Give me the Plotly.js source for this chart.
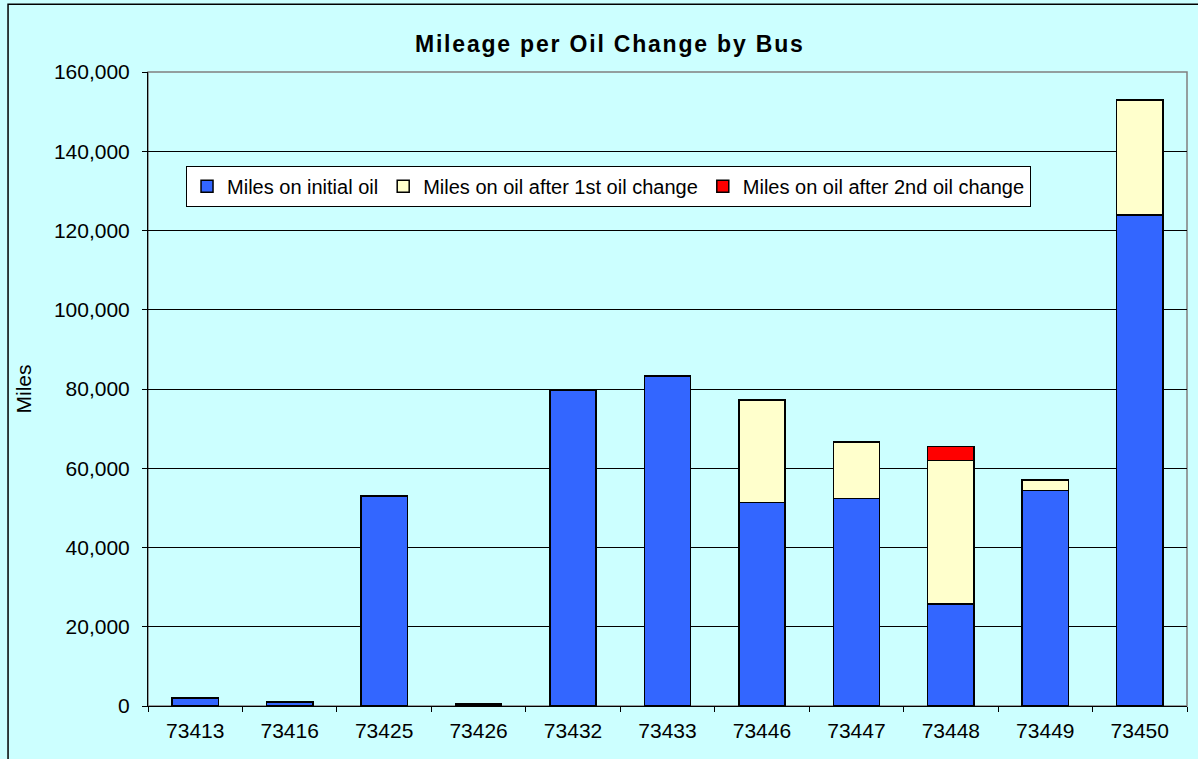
<!DOCTYPE html>
<html>
<head>
<meta charset="utf-8">
<script src="https://cdn.plot.ly/plotly-3.0.1.min.js"></script>
<style>
  html, body { margin: 0; padding: 0; background: #CCFFFF; }
  #chart { width: 1198px; height: 759px; }
  #chart .gtitle { letter-spacing: 1.8px; }
</style>
</head>
<body>
<div id="chart"></div>
<script>
const buses = ["73413", "73416", "73425", "73426", "73432", "73433", "73446", "73447", "73448", "73449", "73450"];
const initialOil = [2000, 1000, 53000, 500, 79800, 83300, 51400, 52400, 25700, 54400, 123900];
const afterFirst = [0, 0, 0, 0, 0, 0, 25800, 14200, 36300, 2600, 29000];
const afterSecond = [0, 0, 0, 0, 0, 0, 0, 0, 3500, 0, 0];
const seriesNames = ["Miles on initial oil", "Miles on oil after 1st oil change", "Miles on oil after 2nd oil change"];
const seriesColors = ["#3366FF", "#FFFFCC", "#FF0000"];
const yTicks = [0, 20000, 40000, 60000, 80000, 100000, 120000, 140000, 160000];

const FONT = "Liberation Sans, Arial, sans-serif";
const seriesValues = [initialOil, afterFirst, afterSecond];
const traces = seriesValues.map((vals, i) => ({
  type: "bar",
  name: seriesNames[i],
  x: buses,
  y: vals,
  marker: { color: seriesColors[i], line: { color: "#000000", width: 1.5 } },
  hoverinfo: "x+y+name"
}));

const layout = {
  width: 1198,
  height: 759,
  paper_bgcolor: "#CCFFFF",
  plot_bgcolor: "#CCFFFF",
  margin: { l: 148, r: 11, t: 72, b: 53 },
  barmode: "stack",
  bargap: 0.51,
  font: { family: FONT, size: 21, color: "#000000" },
  title: {
    text: "<b>Mileage per Oil Change by Bus</b>",
    font: { family: FONT, size: 23, color: "#000000" },
    x: 0.509, xanchor: "center",
    y: 0.942, yanchor: "middle"
  },
  xaxis: {
    type: "category",
    showline: true, linecolor: "#000000", linewidth: 1,
    ticks: "outside", ticklen: 5, tickcolor: "#000000",
    tickson: "boundaries",
    ticklabelstandoff: 6,
    tickfont: { family: FONT, size: 21 },
    showgrid: false,
    zeroline: false
  },
  yaxis: {
    range: [0, 160000],
    tickvals: yTicks,
    tickformat: ",d",
    showline: true, linecolor: "#000000", linewidth: 1,
    ticks: "outside", ticklen: 5, tickcolor: "#000000",
    ticklabelstandoff: 8,
    tickfont: { family: FONT, size: 21 },
    showgrid: true, gridcolor: "#000000", gridwidth: 1,
    zeroline: false,
    title: { text: "Miles", font: { family: FONT, size: 21 }, standoff: 16 }
  },
  legend: {
    orientation: "h",
    x: 0.0366, xanchor: "left",
    y: 0.852, yanchor: "top",
    bgcolor: "#FFFFFF",
    bordercolor: "#000000",
    borderwidth: 1,
    font: { family: FONT, size: 20 },
    traceorder: "normal"
  },
  shapes: [
    { type: "rect", xref: "paper", yref: "paper", x0: 0, x1: 1, y0: 0, y1: 1,
      line: { color: "#808080", width: 1.5 }, fillcolor: "rgba(0,0,0,0)", layer: "below" },
    { type: "rect", xref: "paper", yref: "paper", x0: -0.1347, x1: 1.2, y0: -0.3, y1: 1.107,
      line: { color: "#000000", width: 1.5 }, fillcolor: "rgba(0,0,0,0)", layer: "below" }
  ],
  showlegend: true
};

Plotly.newPlot("chart", traces, layout, { displayModeBar: false, staticPlot: true });
</script>
</body>
</html>
